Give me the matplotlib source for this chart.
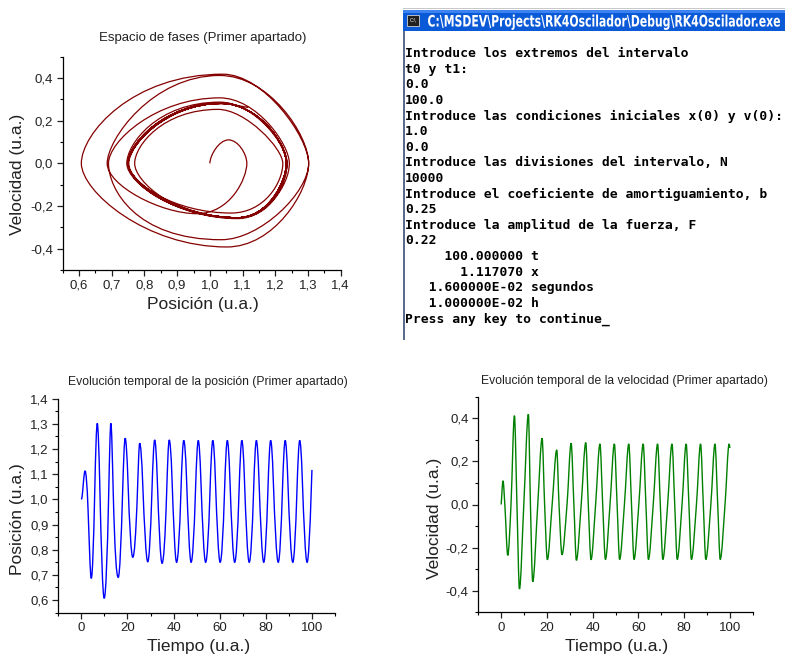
import numpy as np
import matplotlib
matplotlib.use('Agg')
import matplotlib.pyplot as plt
from matplotlib.path import Path
from matplotlib.patches import PathPatch, Rectangle
from matplotlib.textpath import TextPath
from matplotlib.font_manager import FontProperties
from matplotlib.transforms import Affine2D
from matplotlib.ticker import MultipleLocator, FuncFormatter

plt.rcParams['font.family'] = ['Liberation Sans', 'DejaVu Sans']

# values at the turning points of x(t) and v(t)
t_evt = [0.0, 0.8, 1.6, 2.9, 4.3, 5.8, 6.9, 8.0, 9.9, 11.9, 12.8, 13.8,
         16.0, 17.9, 19.0, 20.2, 22.3, 24.3, 25.3, 26.6, 28.8, 30.6, 31.8, 32.9,
         35.0, 37.0, 38.1, 39.3, 41.3, 43.2, 44.4, 45.6, 47.6, 49.5, 50.7, 51.8,
         53.9, 55.8, 57.0, 58.1, 60.2, 62.1, 63.3, 64.4, 66.5, 68.4, 69.6, 70.7,
         72.8, 74.7, 75.9, 77.0, 79.1, 80.9, 82.1, 83.2, 85.4, 87.2, 88.4, 89.5,
         91.7, 93.5, 94.7, 95.8, 97.9, 99.7, 100.0]
x_evt = [1.000, 1.057, 1.113, 0.960, 0.686, 1.030, 1.302, 1.052, 0.607, 1.040, 1.302, 1.035,
         0.690, 1.030, 1.243, 1.075, 0.770, 1.025, 1.223, 1.065, 0.752, 1.030, 1.236, 1.085,
         0.746, 1.030, 1.236, 1.085, 0.750, 1.035, 1.234, 1.085, 0.750, 1.035, 1.234, 1.085,
         0.750, 1.035, 1.234, 1.085, 0.750, 1.035, 1.234, 1.085, 0.750, 1.035, 1.234, 1.085,
         0.750, 1.035, 1.234, 1.085, 0.750, 1.035, 1.234, 1.085, 0.750, 1.035, 1.234, 1.085,
         0.750, 1.035, 1.234, 1.085, 0.750, 1.035, 1.117]
v_evt = [0.000, 0.110, 0.000, -0.236, 0.000, 0.412, 0.000, -0.392, 0.000, 0.418, 0.000, -0.358,
         0.000, 0.307, 0.000, -0.256, 0.000, 0.253, 0.000, -0.233, 0.000, 0.284, 0.000, -0.259,
         0.000, 0.287, 0.000, -0.256, 0.000, 0.281, 0.000, -0.255, 0.000, 0.281, 0.000, -0.255,
         0.000, 0.281, 0.000, -0.255, 0.000, 0.281, 0.000, -0.255, 0.000, 0.281, 0.000, -0.255,
         0.000, 0.281, 0.000, -0.255, 0.000, 0.281, 0.000, -0.255, 0.000, 0.281, 0.000, -0.255,
         0.000, 0.281, 0.000, -0.255, 0.000, 0.281, 0.262]

console_title = r'C:\MSDEV\Projects\RK4Oscilador\Debug\RK4Oscilador.exe'
console_lines = [
    'Introduce los extremos del intervalo',
    't0 y t1:',
    '0.0',
    '100.0',
    'Introduce las condiciones iniciales x(0) y v(0):',
    '1.0',
    '0.0',
    'Introduce las divisiones del intervalo, N',
    '10000',
    'Introduce el coeficiente de amortiguamiento, b',
    '0.25',
    'Introduce la amplitud de la fuerza, F',
    '0.22',
    '     100.000000 t',
    '       1.117070 x',
    '   1.600000E-02 segundos',
    '   1.000000E-02 h',
    'Press any key to continue_',
]

t = np.array(t_evt)
x = np.array(x_evt)
v = np.array(v_evt)

# slope of v(t) at each point: central differences, flat at the turning points
dv = np.empty_like(v)
dv[1:-1] = (v[2:] - v[:-2]) / (t[2:] - t[:-2])
turn = (v[1:-1] - v[:-2]) * (v[2:] - v[1:-1]) <= 0
dv[1:-1][turn] = 0.0
dv[0] = (v[1] - v[0]) / (t[1] - t[0])
dv[-1] = (v[-1] - v[-2]) / (t[-1] - t[-2])


def smooth_path(px, py, dx, dy, tt):
    # cubic hermite curve through the points, parametrised by time
    verts = [(px[0], py[0])]
    codes = [Path.MOVETO]
    for i in range(len(tt) - 1):
        h = (tt[i + 1] - tt[i]) / 3.0
        verts += [(px[i] + h * dx[i], py[i] + h * dy[i]),
                  (px[i + 1] - h * dx[i + 1], py[i + 1] - h * dy[i + 1]),
                  (px[i + 1], py[i + 1])]
        codes += [Path.CURVE4] * 3
    return Path(verts, codes)


W, H = 785, 658
fig = plt.figure(figsize=(W / 100, H / 100), dpi=100)


def box(l, t_, r, b):
    return [l / W, 1 - b / H, (r - l) / W, (b - t_) / H]


def comma(dec):
    def f(val, pos):
        if abs(val) < 1e-9:
            val = 0.0
        return ('%.*f' % (dec, val)).replace('.', ',')
    return FuncFormatter(f)


def style(ax, xlim, ylim, xmaj, xmin_, ymaj, ymin_, xdec, ydec):
    ax.set_xlim(*xlim)
    ax.set_ylim(*ylim)
    ax.spines['top'].set_visible(False)
    ax.spines['right'].set_visible(False)
    for s in ['left', 'bottom']:
        ax.spines[s].set_linewidth(0.9)
    ax.xaxis.set_major_locator(MultipleLocator(xmaj))
    ax.xaxis.set_minor_locator(MultipleLocator(xmin_))
    ax.yaxis.set_major_locator(MultipleLocator(ymaj))
    ax.yaxis.set_minor_locator(MultipleLocator(ymin_))
    ax.xaxis.set_major_formatter(comma(xdec))
    ax.yaxis.set_major_formatter(comma(ydec))
    ax.tick_params(which='major', direction='out', length=4.5, width=0.9,
                   labelsize=9.5, colors='#222222', pad=2.5)
    ax.tick_params(which='minor', direction='out', length=2.5, width=0.8)


def ftext(px, py, s, **kw):
    fig.text(px / W, 1 - py / H, s, ha='center', va='center', color='#222222', **kw)


# phase space
ax1 = fig.add_axes(box(62.7, 56.7, 340.7, 270))
style(ax1, (0.55, 1.4), (-0.5, 0.5), 0.1, 0.05, 0.2, 0.1, 1, 1)
ax1.add_patch(PathPatch(smooth_path(x, v, v, dv, t), fill=False,
                        edgecolor='#850000', lw=0.9))
ftext(203, 37.5, 'Espacio de fases (Primer apartado)', fontsize=9.5)
ftext(202.5, 305, 'Posición (u.a.)', fontsize=12.5)
ftext(17.5, 174, 'Velocidad (u.a.)', fontsize=12.5, rotation=90)

# position vs time
ax2 = fig.add_axes(box(58.3, 398.7, 335, 612.6))
style(ax2, (-10, 110), (0.55, 1.4), 20, 10, 0.1, 0.05, 0, 1)
ax2.add_patch(PathPatch(smooth_path(t, x, np.ones_like(t), v, t), fill=False,
                        edgecolor='#0000FF', lw=1.0))
ftext(208, 381.5, 'Evolución temporal de la posición (Primer apartado)', fontsize=8.7)
ftext(199, 647, 'Tiempo (u.a.)', fontsize=12.5)
ftext(18, 519, 'Posición (u.a.)', fontsize=12.5, rotation=90)

# velocity vs time
ax3 = fig.add_axes(box(478.3, 396.7, 752.7, 612.3))
style(ax3, (-10, 110), (-0.5, 0.5), 20, 10, 0.2, 0.1, 0, 1)
ax3.add_patch(PathPatch(smooth_path(t, v, np.ones_like(t), dv, t), fill=False,
                        edgecolor='#008000', lw=1.0))
ftext(624, 380.5, 'Evolución temporal de la velocidad (Primer apartado)', fontsize=8.7)
ftext(616.7, 647, 'Tiempo (u.a.)', fontsize=12.5)
ftext(435, 518, 'Velocidad (u.a.)', fontsize=12.5, rotation=90)

# console window screenshot (axes in pixel units, y pointing down)
con = fig.add_axes(box(400, 0, 785, 345))
con.set_xlim(400, 785)
con.set_ylim(345, 0)
con.axis('off')
con.add_patch(Rectangle((403, 8), 382, 1.2, color='#c8c8c8', lw=0))
con.add_patch(Rectangle((403, 10), 382, 21, color='#0a5ad8', lw=0))
con.add_patch(Rectangle((403, 10), 382, 3, color='#3c82f0', lw=0))
con.add_patch(Rectangle((403, 31), 1.6, 309, color='#5a6c8c', lw=0))
con.add_patch(Rectangle((407, 15), 12, 11, facecolor='#202020', edgecolor='#d0d0d0', lw=0.6))
con.text(413, 20.5, 'C:\\', color='white', fontsize=3.5, ha='center', va='center',
         family='DejaVu Sans')

# condensed white caption: text outline stretched to the caption box
tp = TextPath((0, 0), console_title, size=1,
              prop=FontProperties(family='DejaVu Sans', weight='bold'))
ext = tp.get_extents()
sx = 352.0 / ext.width
sy = 11.5 / 0.729
cap_tr = Affine2D().translate(-ext.x0, 0).scale(sx, -sy).translate(428, 26.5) + con.transData
con.add_patch(PathPatch(tp, facecolor='white', edgecolor='none', transform=cap_tr))

for i, line in enumerate(console_lines):
    con.text(405, 53.7 + 15.6 * i, line, family='DejaVu Sans Mono', fontweight='bold',
             fontsize=9.4, color='black', ha='left', va='center')

fig.savefig('out.png', dpi=100)
